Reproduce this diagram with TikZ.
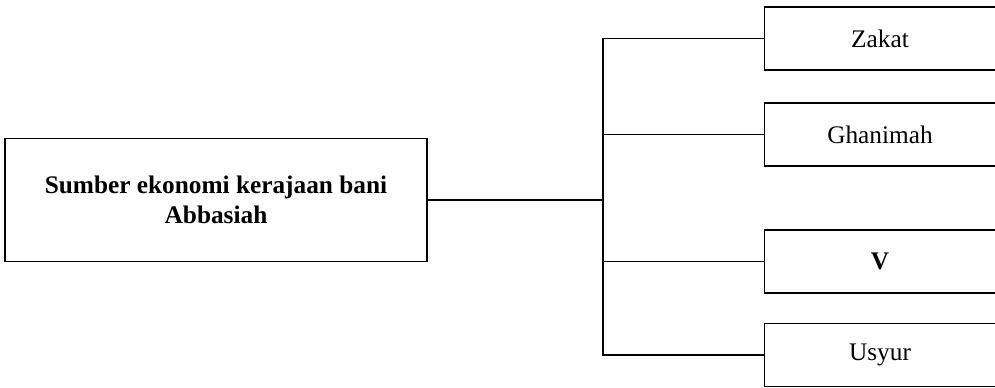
\documentclass[tikz,border=0pt]{standalone}
\usepackage{fontspec}
\setmainfont{Liberation Serif}
\usepackage{tikz}
\usetikzlibrary{positioning}

\begin{document}
\begin{tikzpicture}[
    font=\fontsize{18}{21}\selectfont,
    line width=1.1pt,
    mainbox/.style={draw, minimum width=10.55cm, minimum height=3.075cm, align=center, inner sep=0pt},
    srcbox/.style={draw, minimum width=5.775cm, minimum height=1.575cm, inner sep=0pt}
  ]
  \useasboundingbox (0,0) rectangle (24.875,9.7);

  % Left: main box
  \node[mainbox] (sumber) at (5.4,4.7) {\textbf{Sumber ekonomi kerajaan bani}\\\textbf{Abbasiah}};

  % Right: sources
  \node[srcbox] (zakat)    at (22.0,8.7375) {Zakat};
  \node[srcbox] (ghanimah) at (22.0,6.3375) {Ghanimah};
  \node[srcbox] (v)        at (22.0,3.1625) {\textbf{V}};
  \node[srcbox] (usyur)    at (22.0,0.825)  {Usyur};

  % Connectors
  \coordinate (hub) at (15.075,4.7);
  \draw (sumber.east) -- (hub);
  \foreach \src in {zakat,ghanimah,v,usyur}{
    \draw (hub) |- (\src.west);
  }

\end{tikzpicture}
\end{document}
